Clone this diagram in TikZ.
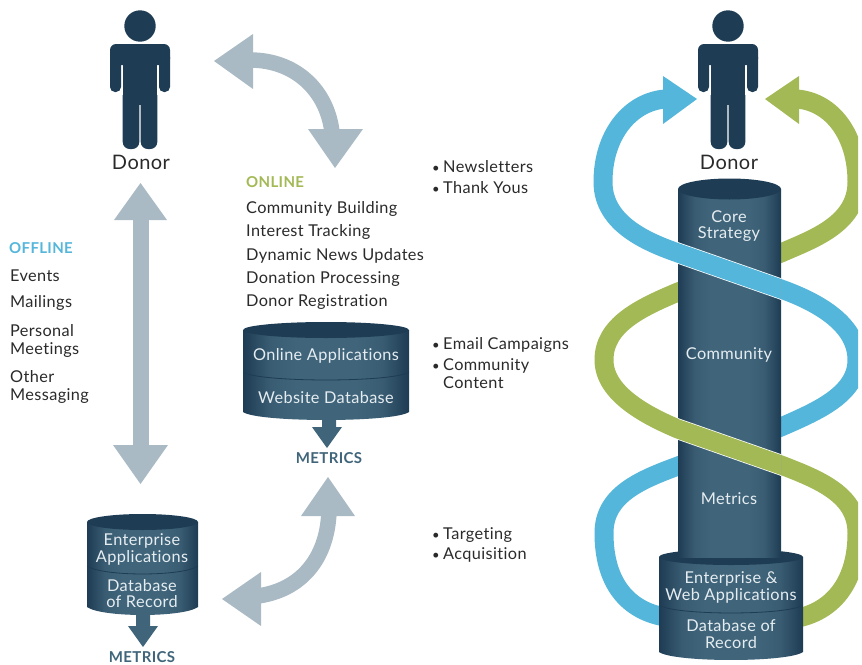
\documentclass[tikz,border=0pt]{standalone}
\usepackage{fontspec}
\setmainfont{Lato}[LetterSpace=2.3,Ligatures=NoCommon]
\usetikzlibrary{calc}
\definecolor{navy}{HTML}{1E3C54}
\definecolor{steel}{HTML}{40657B}
\definecolor{steelb}{HTML}{395C72}
\definecolor{arrowgrey}{HTML}{A9BAC5}
\definecolor{ribblue}{HTML}{54B6DA}
\definecolor{ribgreen}{HTML}{A3B955}
\definecolor{inktext}{HTML}{2A2A2A}
\definecolor{cyltext}{HTML}{E6EDF1}
\pgfdeclarehorizontalshading{cylshade}{100bp}{color(0bp)=(navy); color(25bp)=(navy); color(33bp)=(steelb); color(41bp)=(steel); color(59bp)=(steel); color(67bp)=(steelb); color(75bp)=(navy); color(100bp)=(navy)}
\newcommand{\mycyl}[6]{% x1 x2 ytop ybottom ry ydivider
  \shade[shading=cylshade]
    (#1,#3) -- (#2,#3) -- (#2,#4)
    .. controls (#2-15,#4+1.33*#5) and (#1+15,#4+1.33*#5) .. (#1,#4) -- cycle;
  \fill[navy] ({(#1+#2)/2},#3) ellipse [x radius={(#2-#1)/2},y radius=#5];
  \draw[navy,line width=.8pt] (#1,#6) .. controls (#1+15,#6+1.33*#5) and (#2-15,#6+1.33*#5) .. (#2,#6);
}
\newcommand{\blt}{\makebox[11pt][l]{\fontsize{13}{13}\selectfont •}}
\tikzset{
  lbl/.style={font=\fontsize{16.3}{18}\selectfont,text=inktext,anchor=west,inner sep=0pt,yshift=-.7pt},
  cyl/.style={font=\fontsize{16.3}{18}\selectfont,text=cyltext,inner sep=0pt,yshift=-.7pt},
  donorlbl/.style={font=\fontsize{20}{22}\selectfont,text=inktext,inner sep=0pt},
  metrics/.style={font=\fontsize{15}{18}\selectfont\bfseries,text=steel,inner sep=0pt},
  greyrib/.style={draw=arrowgrey,line width=15.5pt},
  greyhead/.style={fill=arrowgrey},
  bluerib/.style={draw=ribblue,line width=19pt},
  greenrib/.style={draw=ribgreen,line width=19pt},
  person/.pic={
    \fill[navy] (0,26) circle [radius=15.7];
    \fill[navy,rounded corners=6] (-30,44) -- (30,44) -- (30,65) -- (-30,65) -- cycle;
    \fill[navy,rounded corners=5] (-30,52) -- (-19,52) -- (-19,92) -- (-30,92) -- cycle;
    \fill[navy,rounded corners=5] (30,52) -- (19,52) -- (19,92) -- (30,92) -- cycle;
    \fill[navy] (-17.3,50) rectangle (17.3,105);
    \fill[navy] (-17.3,95) -- (-.7,95) [rounded corners=7] -- (-.7,149) -- (-17.3,149) [sharp corners] -- cycle;
    \fill[navy] (17.3,95) -- (.7,95) [rounded corners=7] -- (.7,149) -- (17.3,149) [sharp corners] -- cycle;
  }
}
\begin{document}
\begin{tikzpicture}[x=1pt,y=-1pt]
\useasboundingbox (0,0) rectangle (862,664);
% persons
\pic at (140,0) {person};
\pic at (728,0) {person};
\node[donorlbl] (donorL) at (141,162) {Donor};
\node[donorlbl] (donorR) at (729,162) {Donor};
% grey arrows
\coordinate (a1s) at (250,60);
\coordinate (a1e) at (332,132);
\draw[greyrib] (a1s) .. controls (295,60) and (327,90) .. (a1e);
\fill[greyhead] (214,61) -- (253,34) -- (253,89) -- cycle;
\fill[greyhead] (308,129) -- (363,129) -- (335,168) -- cycle;
\coordinate (a2s) at (141,215);
\coordinate (a2e) at (141,450);
\draw[greyrib] (a2s) -- (a2e);
\fill[greyhead] (140.5,183) -- (167,220) -- (114,220) -- cycle;
\fill[greyhead] (140.5,484) -- (168,445) -- (113,445) -- cycle;
\coordinate (a3s) at (329,512);
\coordinate (a3e) at (258,596);
\draw[greyrib] (a3s) .. controls (327,560) and (300,590) .. (a3e);
\fill[greyhead] (328,477) -- (355,516) -- (301,516) -- cycle;
\fill[greyhead] (222,599) -- (261,572) -- (261,626) -- cycle;
% ribbons (clipped at the right margin)
\begin{scope}
\clip (0,0) rectangle (858,664);
\draw[bluerib] (665,99) .. controls (630,102) and (603,135) .. (603,182) .. controls (603,225) and (650,243) .. (678,253) -- (781,289) .. controls (820,303) and (857,325) .. (857,360) .. controls (857,395) and (815,412) .. (781,427) -- (678,466) .. controls (640,480) and (604,495) .. (604,533) .. controls (604,580) and (625,610) .. (665,617);
\draw[greenrib] (797,99) .. controls (832,102) and (857,135) .. (857,182) .. controls (857,225) and (810,240) .. (781,253) -- (678,292) .. controls (640,308) and (604,325) .. (604,360) .. controls (604,395) and (650,417) .. (678,429) -- (781,465) .. controls (820,480) and (857,495) .. (857,533) .. controls (857,580) and (835,610) .. (798,618);
\end{scope}
\fill[ribblue] (697,99) -- (663,76) -- (663,124) -- cycle;
\fill[ribgreen] (765,99) -- (799,76) -- (799,124) -- cycle;
% big cylinder, column
\mycyl{659}{803}{557}{652}{8}{605}
\shade[shading=cylshade] (678,189) rectangle (781,557);
\fill[navy] (729.5,189) ellipse [x radius=51.5,y radius=10.5];
% front crossings
\begin{scope}
\clip (678,180) rectangle (781,560);
\draw[white,line width=20.5pt] (650,243) -- (678,253) -- (781,289) -- (810,300);
\draw[ribblue,line width=19pt] (650,243) -- (678,253) -- (781,289) -- (810,300);
\draw[white,line width=20.5pt] (650,419) -- (678,429) -- (781,465) -- (810,476);
\draw[ribgreen,line width=19pt] (650,419) -- (678,429) -- (781,465) -- (810,476);
\end{scope}
% small cylinders and arrows
\mycyl{243}{409}{330}{412}{8}{372}
\fill[steel] (322,419) -- (336,419) -- (336,427) -- (342,427) -- (327,448) -- (312,427) -- (322,427) -- cycle;
\mycyl{87}{198}{522}{607}{8}{566}
\fill[steel] (136,615) -- (150,615) -- (150,626) -- (158,626) -- (143,647) -- (128,626) -- (136,626) -- cycle;
% labels
\node[metrics] (m1) at (329,458) {METRICS};
\node[metrics] (m2) at (142,657) {METRICS};
\node[cyl] (t1) at (326,355) {Online Applications};
\node[cyl] (t2) at (326,397) {Website Database};
\node[cyl] (t3) at (142,540) {Enterprise};
\node[cyl] (t4) at (142,557) {Applications};
\node[cyl] (t5) at (142,585) {Database};
\node[cyl] (t6) at (142,601) {of Record};
\node[cyl] (t7) at (729,216) {Core};
\node[cyl] (t8) at (729,233) {Strategy};
\node[cyl] (t9) at (729,354) {Community};
\node[cyl] (t10) at (729,498) {Metrics};
\node[cyl] (t11) at (731,578) {Enterprise \&};
\node[cyl] (t12) at (731,595) {Web Applications};
\node[cyl] (t13) at (731,625) {Database of};
\node[cyl] (t14) at (731,642) {Record};
\node[lbl,text=ribblue,font=\fontsize{15}{18}\selectfont\bfseries] (off) at (9,247) {OFFLINE};
\node[lbl] (o1) at (10,275) {Events};
\node[lbl] (o2) at (10,302) {Mailings};
\node[lbl] (o3) at (10,330) {Personal};
\node[lbl] (o4) at (10,349) {Meetings};
\node[lbl] (o5) at (10,376) {Other};
\node[lbl] (o6) at (10,395) {Messaging};
\node[lbl,text=ribgreen,font=\fontsize{15}{18}\selectfont\bfseries] (on) at (246,181) {ONLINE};
\node[lbl] (n1) at (246,208) {Community Building};
\node[lbl] (n2) at (246,231) {Interest Tracking};
\node[lbl] (n3) at (246,255) {Dynamic News Updates};
\node[lbl] (n4) at (246,278) {Donation Processing};
\node[lbl] (n5) at (246,301) {Donor Registration};
\node[lbl] (b1) at (432,166) {\blt Newsletters};
\node[lbl] (b2) at (432,187) {\blt Thank Yous};
\node[lbl] (b3) at (432,344) {\blt Email Campaigns};
\node[lbl] (b4) at (432,365) {\blt Community};
\node[lbl] (b5) at (443,382) {Content};
\node[lbl] (b6) at (432,534) {\blt Targeting};
\node[lbl] (b7) at (432,554) {\blt Acquisition};
\end{tikzpicture}
\end{document}
